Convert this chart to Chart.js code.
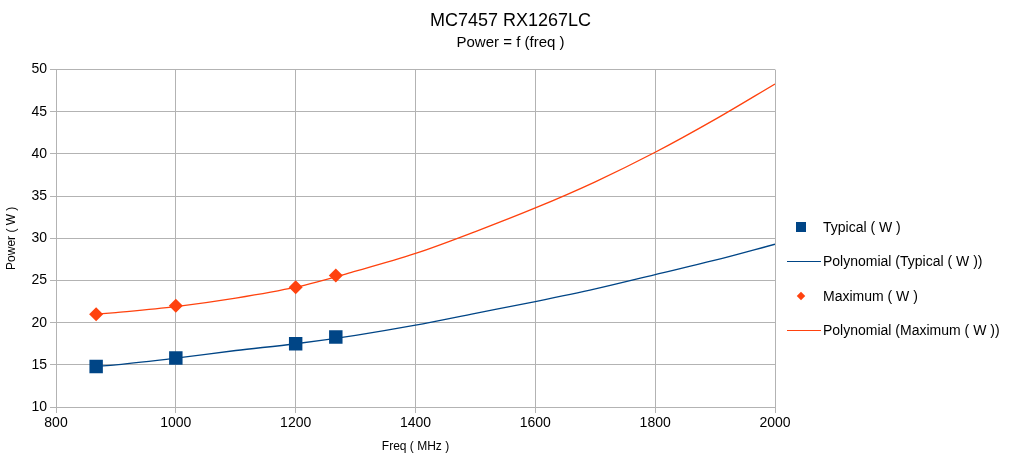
<!DOCTYPE html>
<html>
<head>
<meta charset="utf-8">
<script src="https://cdn.jsdelivr.net/npm/chart.js@4.4.1/dist/chart.umd.min.js"></script>
<style>
    html, body { margin: 0; padding: 0; background: #fff; }
    body { width: 1021px; height: 458px; position: relative; overflow: hidden; font-family: "Liberation Sans", Arial, sans-serif; }
    #wrap { position: absolute; left: 0; top: 0; width: 1021px; height: 458px; }
    #legend { position: absolute; left: 785px; top: 210px; font-size: 14px; color: #000; }
    .legend-item { display: flex; align-items: center; height: 34.3px; }
    .legend-sym { width: 34px; height: 22px; position: relative; margin-right: 4px; }
    .sym-square { position: absolute; left: 11px; top: 6px; width: 10px; height: 10px; }
    .sym-diamond { position: absolute; left: 13px; top: 8px; width: 6px; height: 6px; transform: rotate(45deg); }
    .sym-line { position: absolute; left: 2px; top: 11px; width: 34px; height: 1px; }
</style>
</head>
<body>
<div id="wrap"><canvas id="chart" width="1021" height="458"></canvas></div>
<div id="legend"></div>
<script>
// measured points
const typicalFreq = [867, 1000, 1200, 1267];
const typicalPower = [14.8, 15.8, 17.5, 18.3];
const maximumFreq = [867, 1000, 1200, 1267];
const maximumPower = [21.0, 22.0, 24.2, 25.6];

// trend lines
const trendFreq = [867, 900, 1000, 1100, 1200, 1300, 1400, 1500, 1600, 1700, 1800, 1900, 2000];
const typicalTrend = [14.8, 15.0, 15.8, 16.7, 17.5, 18.5, 19.7, 21.1, 22.5, 24.0, 25.7, 27.4, 29.3];
const maximumTrend = [21.0, 21.2, 21.9, 22.9, 24.2, 26.1, 28.2, 30.8, 33.6, 36.7, 40.2, 44.1, 48.3];

const xTicks = [800, 1000, 1200, 1400, 1600, 1800, 2000];
const yTicks = [10, 15, 20, 25, 30, 35, 40, 45, 50];

const colors = { blue: '#004586', orange: '#ff420e', grid: '#b3b3b3' };

const toXY = (xs, ys) => xs.map((x, i) => ({ x: x, y: ys[i] }));

const legendItems = [
    { label: 'Typical ( W )', color: colors.blue, kind: 'square' },
    { label: 'Polynomial (Typical ( W ))', color: colors.blue, kind: 'line' },
    { label: 'Maximum ( W )', color: colors.orange, kind: 'diamond' },
    { label: 'Polynomial (Maximum ( W ))', color: colors.orange, kind: 'line' }
];

function renderLegend() {
    const box = document.getElementById('legend');
    box.innerHTML = '';
    legendItems.forEach((item) => {
        const row = document.createElement('div');
        row.className = 'legend-item';
        row.innerHTML = `
            <div class="legend-sym"><span class="sym-${item.kind}" style="background-color: ${item.color}"></span></div>
            <span>${item.label}</span>
        `;
        box.appendChild(row);
    });
}

const font = "'Liberation Sans', Arial, sans-serif";

new Chart(document.getElementById('chart').getContext('2d'), {
    type: 'scatter',
    data: {
        datasets: [
            {
                label: 'Polynomial (Typical ( W ))',
                data: toXY(trendFreq, typicalTrend),
                showLine: true, borderColor: colors.blue, borderWidth: 1.3,
                pointRadius: 0, cubicInterpolationMode: 'monotone', order: 3
            },
            {
                label: 'Polynomial (Maximum ( W ))',
                data: toXY(trendFreq, maximumTrend),
                showLine: true, borderColor: colors.orange, borderWidth: 1.3,
                pointRadius: 0, cubicInterpolationMode: 'monotone', order: 4
            },
            {
                label: 'Typical ( W )',
                data: toXY(typicalFreq, typicalPower),
                pointStyle: 'rect', pointRadius: 9.5,
                backgroundColor: colors.blue, borderColor: colors.blue, borderWidth: 0, order: 1
            },
            {
                label: 'Maximum ( W )',
                data: toXY(maximumFreq, maximumPower),
                pointStyle: 'rectRot', pointRadius: 7,
                backgroundColor: colors.orange, borderColor: colors.orange, borderWidth: 0, order: 2
            }
        ]
    },
    options: {
        responsive: false,
        animation: false,
        plugins: {
            legend: { display: false },
            tooltip: { enabled: false },
            title: {
                display: true, text: 'MC7457 RX1267LC', color: '#000',
                font: { family: font, size: 18, weight: 'normal' },
                padding: { top: 10, bottom: 2 }
            },
            subtitle: {
                display: true, text: 'Power = f (freq )', color: '#000',
                font: { family: font, size: 15, weight: 'normal' },
                padding: { top: 0, bottom: 18 }
            }
        },
        scales: {
            x: {
                type: 'linear', min: 800, max: 2000,
                afterBuildTicks: (axis) => { axis.ticks = xTicks.map((v) => ({ value: v })); },
                afterFit: (axis) => { axis.height = 51; },
                grid: { color: colors.grid, drawTicks: true, tickLength: 6, tickColor: colors.grid },
                border: { color: colors.grid },
                ticks: { color: '#000', font: { family: font, size: 14 }, padding: 2, maxRotation: 0, callback: (v) => String(v) },
                title: { display: true, text: 'Freq ( MHz )', color: '#000', font: { family: font, size: 12 }, padding: { top: 2 } }
            },
            y: {
                type: 'linear', min: 10, max: 50,
                afterBuildTicks: (axis) => { axis.ticks = yTicks.map((v) => ({ value: v })); },
                afterFit: (axis) => { axis.width = 56; },
                grid: { color: colors.grid, drawTicks: true, tickLength: 6, tickColor: colors.grid },
                border: { color: colors.grid },
                ticks: { color: '#000', font: { family: font, size: 14 }, padding: 3, callback: (v) => String(v) },
                title: { display: true, text: 'Power ( W )', color: '#000', font: { family: font, size: 12 }, padding: { bottom: 2 } }
            },
            // empty right-hand axis that keeps room for the legend
            legendRoom: {
                type: 'linear', position: 'right', min: 10, max: 50, display: true,
                afterFit: (axis) => { axis.width = 246; },
                grid: { display: false, drawOnChartArea: false },
                border: { display: false },
                ticks: { display: false }
            }
        }
    }
});

renderLegend();
</script>
</body>
</html>
